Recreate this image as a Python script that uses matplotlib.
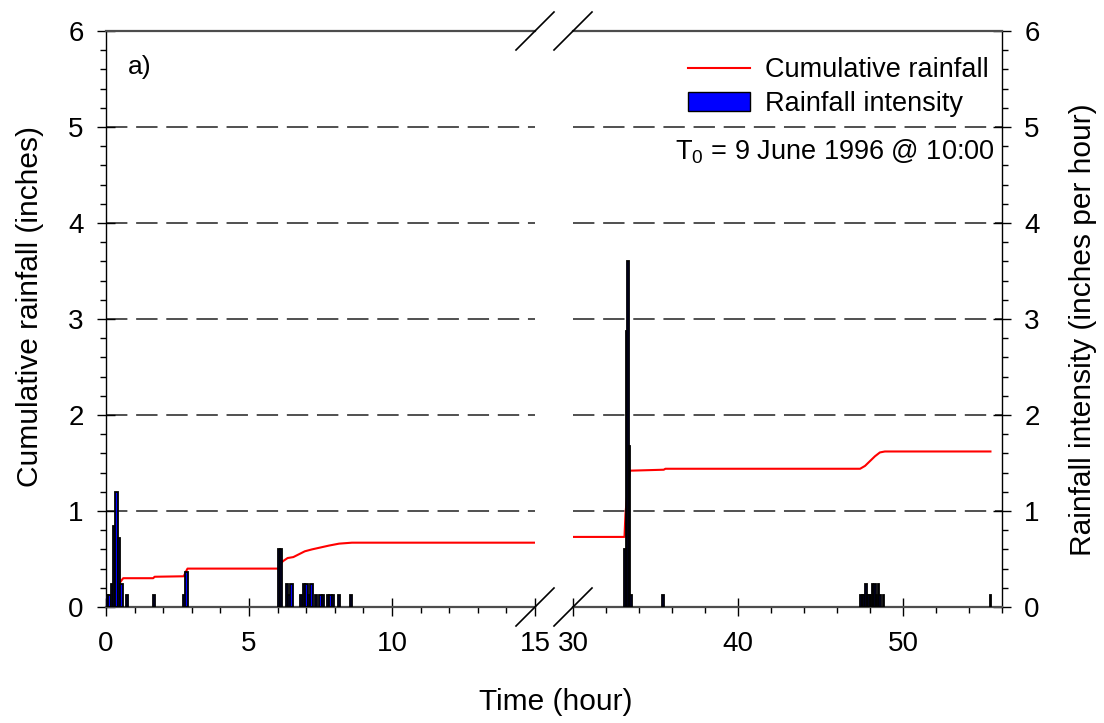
import matplotlib
matplotlib.use('Agg')
import matplotlib.pyplot as plt
from matplotlib.lines import Line2D
from matplotlib.patches import Patch
from matplotlib.ticker import MultipleLocator

# ---- DATA ----
# cumulative rainfall (inches), before and after the axis break
cum_t_left = [0.0, 0.1, 0.2, 0.3, 0.4, 0.5, 0.6, 1.65, 1.70, 2.72, 2.78, 2.85,
              6.05, 6.12, 6.20, 6.35, 6.55, 6.75, 6.95, 7.20, 7.50, 7.80, 8.15, 8.60, 15.0]
cum_v_left = [0.0, 0.02, 0.04, 0.10, 0.20, 0.26, 0.30, 0.30, 0.315, 0.32, 0.36, 0.40,
              0.40, 0.46, 0.48, 0.51, 0.52, 0.55, 0.58, 0.60, 0.62, 0.64, 0.66, 0.67, 0.67]
cum_t_right = [30.0, 33.12, 33.18, 33.30, 33.45, 35.5, 35.6, 47.4, 47.7, 48.0, 48.3, 48.6, 48.9, 55.3]
cum_v_right = [0.73, 0.73, 0.97, 1.20, 1.42, 1.43, 1.44, 1.44, 1.47, 1.52, 1.57, 1.61, 1.62, 1.62]

# rainfall intensity (inches per hour), 5-minute bins
bar_t_left = [0.04, 0.12, 0.21, 0.29, 0.37, 0.45, 0.54, 0.74, 1.68, 2.74, 2.82,
              6.04, 6.12, 6.32, 6.41, 6.49, 6.82, 6.92, 7.01, 7.10, 7.18,
              7.34, 7.50, 7.58, 7.77, 7.85, 7.93, 8.15, 8.57]
bar_v_left = [0.12, 0.12, 0.24, 0.84, 1.20, 0.72, 0.24, 0.12, 0.12, 0.12, 0.36,
              0.60, 0.60, 0.24, 0.12, 0.24, 0.12, 0.24, 0.24, 0.12, 0.24,
              0.12, 0.12, 0.12, 0.12, 0.12, 0.12, 0.12, 0.12]
bar_t_right = [33.15, 33.24, 33.33, 33.42, 33.51, 35.45,
               47.46, 47.55, 47.63, 47.76, 47.85, 47.94, 48.03, 48.14, 48.22,
               48.31, 48.40, 48.50, 48.60, 48.80, 55.30]
bar_v_right = [0.60, 2.88, 3.60, 1.68, 0.12, 0.12,
               0.12, 0.12, 0.12, 0.24, 0.12, 0.12, 0.12, 0.24, 0.12,
               0.24, 0.12, 0.24, 0.12, 0.12, 0.12]

bin_width = 5 / 60

plt.rcParams['font.family'] = ['Liberation Sans', 'DejaVu Sans']
plt.rcParams['mathtext.fontset'] = 'custom'
plt.rcParams['mathtext.rm'] = 'Liberation Sans'

W, H = 1104, 723
fig = plt.figure(figsize=(W / 100, H / 100), dpi=100)

def px(x, y):
    # pixel position (from top-left) -> figure fraction
    return x / W, 1 - y / H

x0, x1, x2, x3 = 106, 535, 573, 1002
ytop, ybot = 31, 607
ax1 = fig.add_axes([x0 / W, 1 - ybot / H, (x1 - x0) / W, (ybot - ytop) / H])
ax2 = fig.add_axes([x2 / W, 1 - ybot / H, (x3 - x2) / W, (ybot - ytop) / H])

for ax, ct, cv, bt, bv in [(ax1, cum_t_left, cum_v_left, bar_t_left, bar_v_left),
                           (ax2, cum_t_right, cum_v_right, bar_t_right, bar_v_right)]:
    ax.bar(bt, bv, width=bin_width, color='blue', edgecolor='black', linewidth=1.3, zorder=3)
    ax.plot(ct, cv, color='red', lw=1.5, zorder=2.5)
    ax.set_ylim(0, 6)
    ax.yaxis.set_major_locator(MultipleLocator(1))
    ax.yaxis.set_minor_locator(MultipleLocator(0.2))
    ax.grid(axis='y', which='major', color='#505050', lw=1.4, linestyle=(0, (11, 4.5)), zorder=1)
    ax.set_axisbelow(True)
    for s in ['top', 'bottom']:
        ax.spines[s].set_color('#4d4d4d')
        ax.spines[s].set_linewidth(1.6)
    for s in ['left', 'right']:
        ax.spines[s].set_linewidth(1.0)
    ax.tick_params(which='major', direction='inout', length=13, width=1.0, labelsize=20)
    ax.tick_params(which='minor', direction='out', length=4.5, width=1.0)
    ax.tick_params(axis='x', which='major', pad=11)
    ax.tick_params(axis='y', which='major', pad=9.5)

ax1.set_xlim(0, 15)
ax1.set_xticks([0, 5, 10, 15])
ax1.xaxis.set_minor_locator(MultipleLocator(1))
ax1.spines['right'].set_visible(False)
ax1.tick_params(which='both', right=False)

ax2.set_xlim(30, 56)
ax2.set_xticks([30, 40, 50])
ax2.xaxis.set_minor_locator(MultipleLocator(2))
ax2.spines['left'].set_visible(False)
ax2.yaxis.tick_right()
ax2.tick_params(which='both', left=False)

# axis break marks
for bx in [x1, x2]:
    for by in [ytop, ybot]:
        fig.add_artist(Line2D([px(bx - 19, 0)[0], px(bx + 19, 0)[0]],
                              [px(0, by + 19)[1], px(0, by - 19)[1]],
                              color='black', lw=1.2, transform=fig.transFigure))

# labels
fig.text(*px(30, 306), 'Cumulative rainfall (inches)', rotation=90, ha='center', va='center', fontsize=21.5)
fig.text(*px(1083, 330), 'Rainfall intensity (inches per hour)', rotation=90, ha='center', va='center', fontsize=21.5)
fig.text(*px(556, 702), 'Time (hour)', ha='center', va='center', fontsize=21.5)
fig.text(*px(128, 67), 'a)', ha='left', va='center', fontsize=19)

handles = [Line2D([], [], color='red', lw=1.5),
           Patch(facecolor='blue', edgecolor='black', linewidth=1)]
fig.legend(handles, ['Cumulative rainfall', 'Rainfall intensity'], loc='upper right',
           bbox_to_anchor=px(989, 57), frameon=False, fontsize=19.5, borderpad=0,
           handlelength=2.3, handletextpad=0.55, labelspacing=0.3, borderaxespad=0)
fig.text(*px(995, 152), r'T$\mathregular{_0}$ = 9 June 1996 @ 10:00', ha='right', va='center', fontsize=19.5)

fig.savefig('out.png', dpi=100)
